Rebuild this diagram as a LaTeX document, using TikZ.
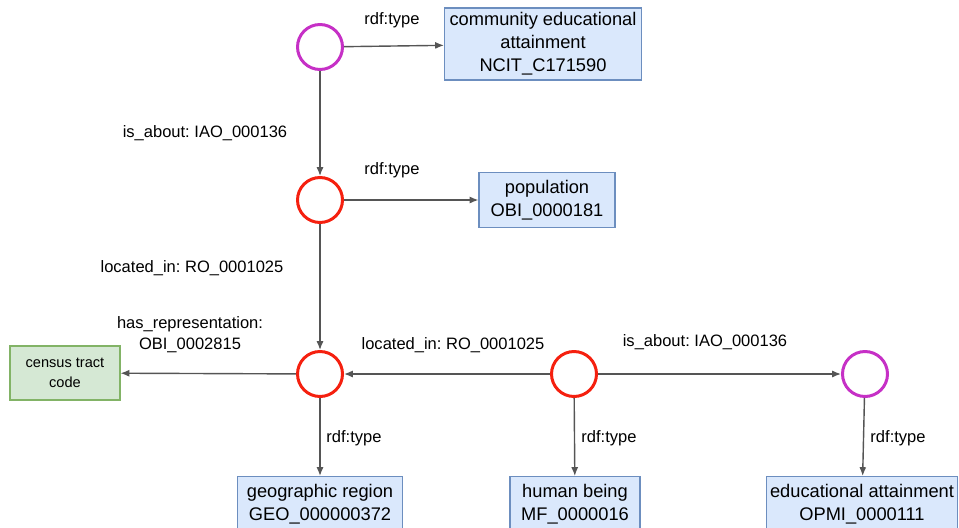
\documentclass[tikz,border=0pt]{standalone}
\usepackage{fontspec}
\setmainfont{Liberation Sans}
\usetikzlibrary{arrows.meta, positioning}
\definecolor{boxblue}{HTML}{DAE8FC}
\definecolor{lineblue}{HTML}{6C8EBF}
\definecolor{boxgreen}{HTML}{D5E8D4}
\definecolor{linegreen}{HTML}{82B366}
\definecolor{instmag}{HTML}{C630C6}
\definecolor{instred}{HTML}{F5200F}
\definecolor{edgegray}{HTML}{555555}
\frenchspacing

\begin{document}
\begin{tikzpicture}[x=0.02cm, y=-0.02cm, >={Latex[length=5pt, width=4pt]},
    inst/.style={circle, line width=1.7pt, minimum size=0.9cm, inner sep=0pt},
    cls/.style={draw=lineblue, fill=boxblue, line width=0.6pt, align=center,
        font=\fontsize{10.4}{13}\selectfont, inner sep=2pt},
    rep/.style={draw=linegreen, fill=boxgreen, line width=0.6pt, align=center,
        font=\fontsize{8.3}{11}\selectfont},
    lbl/.style={align=center, font=\fontsize{9.4}{12}\selectfont},
    edge/.style={->, draw=edgegray, line width=0.8pt}]
    \useasboundingbox (0, 0) rectangle (959, 527);
    \clip (0, 0) rectangle (959, 527);
    % instances
    \node[inst, draw=instmag] (ced) at (320, 47) {};
    \node[inst, draw=instred] (pop) at (320, 200) {};
    \node[inst, draw=instred] (geo) at (320, 374) {};
    \node[inst, draw=instred] (hum) at (574, 374) {};
    \node[inst, draw=instmag] (edu) at (865, 374) {};
    % classes
    \node[cls, minimum width=3.94cm, minimum height=1.44cm] (cedC) at (543, 44)
        {community educational\\attainment\\NCIT\_C171590};
    \node[cls, minimum width=2.72cm, minimum height=1.1cm] (popC) at (547, 200)
        {population\\OBI\_0000181};
    \node[rep, minimum width=2.2cm, minimum height=1.08cm] (tract) at (65, 373)
        {census tract\\code};
    \node[cls, minimum width=3.3cm, minimum height=1.1cm] (geoC) at (320, 504)
        {geographic region\\GEO\_000000372};
    \node[cls, minimum width=2.6cm, minimum height=1.1cm] (humC) at (575, 504)
        {human being\\MF\_0000016};
    \node[cls, minimum width=3.8cm, minimum height=1.1cm] (eduC) at (862, 504)
        {educational attainment\\OPMI\_0000111};
    % edges
    \draw[edge] (ced) -- (cedC);
    \draw[edge] (ced) -- (pop);
    \draw[edge] (pop) -- (popC);
    \draw[edge] (pop) -- (geo);
    \draw[edge] (geo) -- (tract);
    \draw[edge] (hum) -- (geo);
    \draw[edge] (hum) -- (edu);
    \draw[edge] (geo) -- (geoC);
    \draw[edge] (hum) -- (humC);
    \draw[edge] (edu) -- (eduC);
    % edge labels
    \node[lbl] (l1) at (392, 20) {rdf:type};
    \node[lbl] (l2) at (205, 133) {is\_about: IAO\_000136};
    \node[lbl] (l3) at (392, 170) {rdf:type};
    \node[lbl] (l4) at (192, 268) {located\_in: RO\_0001025};
    \node[lbl] (l5) at (190, 335) {has\_representation:\\OBI\_0002815};
    \node[lbl] (l6) at (453, 345) {located\_in: RO\_0001025};
    \node[lbl] (l7) at (705, 342) {is\_about: IAO\_000136};
    \node[lbl] (l8) at (354, 438) {rdf:type};
    \node[lbl] (l9) at (609, 438) {rdf:type};
    \node[lbl] (l10) at (898, 438) {rdf:type};
\end{tikzpicture}
\end{document}
